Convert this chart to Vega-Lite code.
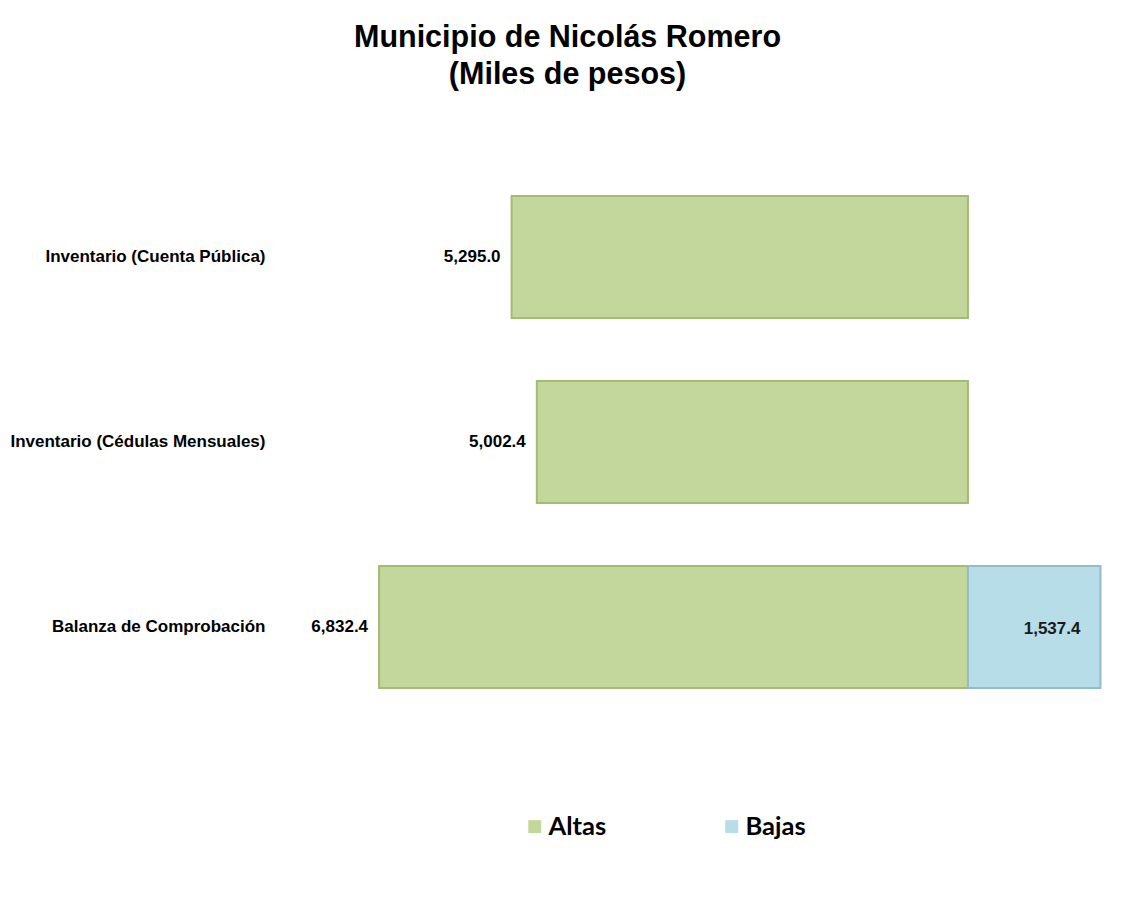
{
  "$schema": "https://vega.github.io/schema/vega-lite/v6.json",
  "width": 855,
  "height": 555,
  "autosize": {"type": "none"},
  "padding": {"left": 275, "top": 164.5, "right": 0, "bottom": 191.5},
  "background": "white",
  "title": {
    "text": ["Municipio de Nicolás Romero", "(Miles de pesos)"],
    "font": "Liberation Sans",
    "fontSize": 30.5,
    "fontWeight": "bold",
    "color": "#000000",
    "anchor": "middle",
    "frame": "group",
    "dx": -135,
    "offset": 74,
    "lineHeight": 37
  },
  "data": {
    "values": [
      {"categoria": "Inventario (Cuenta Pública)", "tipo": "Altas", "valor": 5295.0},
      {"categoria": "Inventario (Cédulas Mensuales)", "tipo": "Altas", "valor": 5002.4},
      {"categoria": "Balanza de Comprobación", "tipo": "Altas", "valor": 6832.4},
      {"categoria": "Balanza de Comprobación", "tipo": "Bajas", "valor": 1537.4}
    ]
  },
  "transform": [
    {"calculate": "datum.tipo === 'Altas' ? -datum.valor : datum.valor", "as": "pos"}
  ],
  "encoding": {
    "y": {
      "field": "categoria",
      "type": "nominal",
      "sort": ["Inventario (Cuenta Pública)", "Inventario (Cédulas Mensuales)", "Balanza de Comprobación"],
      "scale": {"paddingInner": 0.34, "paddingOuter": 0.17},
      "axis": {
        "title": null,
        "domain": false,
        "ticks": false,
        "labelPadding": 10,
        "labelFont": "Liberation Sans",
        "labelFontSize": 17,
        "labelFontWeight": "bold",
        "labelColor": "#000000",
        "labelLimit": 400
      }
    },
    "x": {
      "field": "pos",
      "type": "quantitative",
      "stack": null,
      "scale": {"domain": [-8040, 1880], "nice": false, "zero": false},
      "axis": null
    }
  },
  "layer": [
    {
      "mark": {"type": "bar", "strokeWidth": 2},
      "encoding": {
        "color": {
          "field": "tipo",
          "type": "nominal",
          "scale": {"domain": ["Altas", "Bajas"], "range": ["#C3D69B", "#B7DDE8"]},
          "legend": {
            "title": null,
            "orient": "none",
            "legendX": 247,
            "legendY": 649,
            "direction": "horizontal",
            "symbolType": "square",
            "symbolSize": 169,
            "symbolStrokeWidth": 0,
            "labelFont": "Lato",
            "labelFontSize": 25.5,
            "labelFontWeight": "bold",
            "labelColor": "#000000",
            "labelOffset": 1,
            "columnPadding": 112,
            "padding": 0
          }
        },
        "stroke": {
          "field": "tipo",
          "type": "nominal",
          "scale": {"domain": ["Altas", "Bajas"], "range": ["#A3BC74", "#92BCC9"]},
          "legend": null
        }
      }
    },
    {
      "transform": [{"filter": "datum.tipo === 'Altas'"}],
      "mark": {"type": "text", "align": "right", "baseline": "middle", "dx": -11, "font": "Liberation Sans", "fontSize": 17, "fontWeight": "bold", "color": "#000000"},
      "encoding": {
        "text": {"field": "valor", "type": "quantitative", "format": ",.1f"}
      }
    },
    {
      "transform": [{"filter": "datum.tipo === 'Bajas'"}],
      "mark": {"type": "text", "align": "right", "baseline": "middle", "dx": -20, "dy": 2, "font": "Liberation Sans", "fontSize": 17, "fontWeight": "bold", "color": "#1a1a1a"},
      "encoding": {
        "text": {"field": "valor", "type": "quantitative", "format": ",.1f"}
      }
    }
  ],
  "config": {"view": {"stroke": null}}
}
